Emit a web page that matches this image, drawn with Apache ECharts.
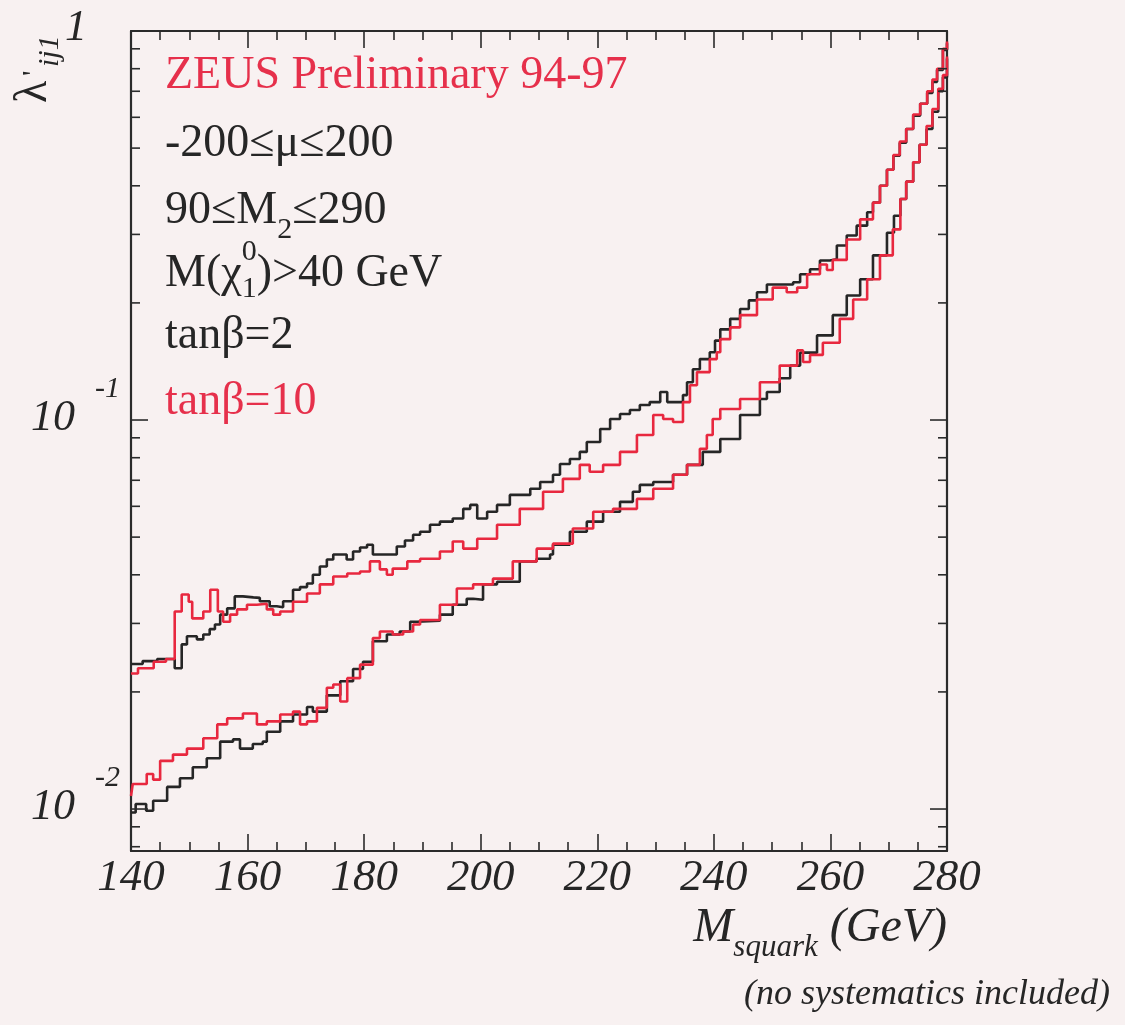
<!DOCTYPE html>
<html>
<head>
<meta charset="utf-8">
<title>ZEUS lambda' limits vs squark mass</title>
<script src="https://cdn.jsdelivr.net/npm/echarts@6/dist/echarts.min.js"></script>
<style>
  html, body { margin: 0; padding: 0; background: #f8f1f1; }
  #chart { width: 1125px; height: 1025px; }
</style>
</head>
<body>
<div id="chart"></div>
<script>
// ---- axis ranges and ticks ----
const X_MIN = 140, X_MAX = 280, X_STEP = 20;
const Y_MIN = 0.0078, Y_MAX = 1;
const yTickValues = [0.008, 0.009, 0.01, 0.02, 0.03, 0.04, 0.05, 0.06, 0.07, 0.08, 0.09,
                     0.1, 0.2, 0.3, 0.4, 0.5, 0.6, 0.7, 0.8, 0.9, 1];

// ---- tan(beta) = 2, upper boundary ----
const blackUpperMass = [140, 142, 144.5, 147.5, 148.7, 149.6, 151.3, 152.4, 153.5, 154.4,
  155.3, 156.5, 157.8, 159.2, 161, 162.1, 163.8, 165, 166.1, 167.8,
  169, 170.2, 171.2, 172.4, 173.6, 174.7, 177, 178.1, 179.3, 180.5,
  181.5, 183.9, 185.6, 187, 188.4, 189.6, 191.3, 193, 195.2, 197,
  198.2, 199.4, 201.1, 202.8, 205, 206.7, 208.5, 210.2, 212.4, 213.6,
  215.3, 217, 218.2, 220.5, 222.2, 223.9, 225.6, 227.3, 229, 230.8,
  232, 234.7, 235.4, 236.4, 237.6, 239.3, 240.2, 241.1, 242.8, 244.5,
  246, 247.4, 249.1, 253.6, 254.8, 256.5, 258.2, 259.9, 261.1, 262.8,
  264.5, 266.3, 267.3, 268.5, 269.7, 270.8, 271.9, 273, 274.2, 275.4,
  276.6, 277.5, 278.3, 279.3, 280];
const blackUpperLambda = [0.0236, 0.0240, 0.0243, 0.0230, 0.0265, 0.0278, 0.0273, 0.0281, 0.0290, 0.0298,
  0.0316, 0.0328, 0.0352, 0.0350, 0.0349, 0.0342, 0.0332, 0.0330, 0.0342, 0.0366,
  0.0372, 0.0380, 0.0400, 0.0420, 0.0438, 0.0451, 0.0438, 0.0459, 0.0470, 0.0478,
  0.0451, 0.0451, 0.0473, 0.0490, 0.0507, 0.0516, 0.0538, 0.0548, 0.0558, 0.0591,
  0.0605, 0.0558, 0.0581, 0.0605, 0.0642, 0.0642, 0.0666, 0.0693, 0.0723, 0.0771,
  0.0794, 0.0828, 0.0878, 0.0948, 0.1006, 0.1036, 0.1061, 0.1093, 0.1112, 0.1180,
  0.1112, 0.1159, 0.1251, 0.1351, 0.1434, 0.1494, 0.160, 0.171, 0.182, 0.193,
  0.203, 0.213, 0.223, 0.226, 0.237, 0.244, 0.257, 0.259, 0.281, 0.298,
  0.316, 0.342, 0.362, 0.40, 0.44, 0.478, 0.516, 0.56, 0.606, 0.65,
  0.693, 0.74, 0.794, 0.894, 0.93];

// ---- tan(beta) = 2, lower boundary ----
const blackLowerMass = [140, 140.8, 142.6, 143.8, 146.2, 148.4, 150.6, 153, 155.3, 157.5,
  158.7, 160.9, 162.6, 163.3, 165.6, 167.8, 170.2, 171.2, 173.6, 175.9,
  178.1, 179.8, 181.5, 183.9, 186.1, 187.9, 189.1, 193, 195.2, 197.6,
  198.7, 200.4, 202.8, 206.7, 209.6, 211.9, 212.4, 215.3, 218.2, 221,
  223.9, 226.1, 227.3, 229.6, 233, 235.4, 238.1, 241.1, 244.5, 247.9,
  249.1, 251.3, 253.1, 254.8, 257.7, 260.4, 262.8, 265.1, 267.3, 269.7,
  270.9, 272, 273, 274.2, 275.3, 276.5, 277.5, 278.5, 279.3, 280];
const blackLowerLambda = [0.0098, 0.0103, 0.0099, 0.0105, 0.0114, 0.0120, 0.0128, 0.0135, 0.0149, 0.0151,
  0.0143, 0.0147, 0.0149, 0.0158, 0.0168, 0.0175, 0.0183, 0.0178, 0.0196, 0.0213,
  0.0229, 0.0239, 0.0270, 0.0281, 0.0286, 0.0303, 0.0305, 0.0316, 0.0335, 0.0347,
  0.0345, 0.0378, 0.0384, 0.0433, 0.0440, 0.0451, 0.0478, 0.0516, 0.0548, 0.0581,
  0.0616, 0.0654, 0.0681, 0.0693, 0.0723, 0.0767, 0.0828, 0.0894, 0.1030, 0.1132,
  0.118, 0.128, 0.138, 0.149, 0.165, 0.186, 0.209, 0.230, 0.265, 0.303,
  0.335, 0.37, 0.41, 0.46, 0.51, 0.56, 0.62, 0.70, 0.76, 0.85];

// ---- tan(beta) = 10, upper boundary ----
const redUpperMass = [140, 141.2, 143.9, 146, 147.5, 148.7, 149.9, 150.5, 152.4, 153.6,
  154.9, 155.8, 157, 158.2, 159.9, 161.6, 163.3, 164.4, 165.6, 167.8,
  170.2, 172.4, 174.7, 177.1, 179.3, 181, 182.7, 183.9, 184.9, 187.4,
  189.6, 193, 195.2, 197, 199.4, 202.8, 206.7, 210.7, 214.1, 217,
  218.7, 221, 223.9, 226.8, 229.6, 231.3, 233, 234.7, 235.9, 237.1,
  239.3, 240.5, 241.1, 242.8, 244.5, 247.4, 250.1, 252.5, 254.3, 256,
  258.2, 259.4, 260.4, 262.8, 265.1, 267.3, 268.5, 269.7, 270.8, 271.9,
  273, 274.2, 275.4, 276.6, 277.5, 278.3, 279.3, 280];
const redUpperLambda = [0.0223, 0.0230, 0.0239, 0.0243, 0.0322, 0.0356, 0.0341, 0.0309, 0.0322, 0.0366,
  0.0322, 0.0303, 0.0316, 0.0326, 0.0335, 0.0337, 0.0326, 0.0316, 0.0322, 0.0341,
  0.0358, 0.0378, 0.0396, 0.0403, 0.0408, 0.0433, 0.0413, 0.0400, 0.0415, 0.0433,
  0.0440, 0.0459, 0.0487, 0.0467, 0.0495, 0.0538, 0.0591, 0.0654, 0.0706, 0.0767,
  0.0736, 0.0767, 0.0828, 0.0915, 0.1030, 0.1006, 0.0988, 0.1112, 0.1229, 0.1328,
  0.1434, 0.1494, 0.1614, 0.173, 0.186, 0.204, 0.219, 0.213, 0.219, 0.237,
  0.251, 0.243, 0.258, 0.291, 0.328, 0.362, 0.40, 0.44, 0.48, 0.52,
  0.56, 0.61, 0.65, 0.70, 0.75, 0.80, 0.90, 0.94];

// ---- tan(beta) = 10, lower boundary ----
const redLowerMass = [140, 140.3, 142.7, 143.8, 145, 147.2, 149.6, 152.4, 154.8, 156.5,
  159.2, 161.6, 163.3, 165.6, 167.8, 169, 170.2, 171.9, 173.6, 174.7,
  175.9, 177.1, 179.3, 181.5, 182.7, 184.9, 186.7, 188.4, 189.6, 193,
  195.9, 198.7, 202.1, 205.5, 209.6, 212.4, 215.8, 219.3, 222.7, 226.8,
  229.6, 233, 235.4, 237.6, 238.8, 239.8, 241.1, 244.5, 247.9, 251.3,
  254.3, 255.3, 256.5, 258.7, 261.6, 263.9, 266.3, 268.5, 270.7, 272,
  273, 274.2, 275.3, 276.5, 277.5, 278.5, 279.3, 280];
const redLowerLambda = [0.0108, 0.0116, 0.0123, 0.0119, 0.0133, 0.0138, 0.0143, 0.0152, 0.0165, 0.0171,
  0.0176, 0.0165, 0.0168, 0.0175, 0.0178, 0.0165, 0.0168, 0.0182, 0.0205, 0.0209,
  0.0189, 0.0217, 0.0235, 0.0275, 0.0286, 0.0281, 0.0286, 0.0298, 0.0306, 0.0335,
  0.0369, 0.0378, 0.0391, 0.0433, 0.0467, 0.0481, 0.0526, 0.0581, 0.0591, 0.0627,
  0.0666, 0.0723, 0.0767, 0.0843, 0.0915, 0.1006, 0.1067, 0.1132, 0.125, 0.138,
  0.151, 0.141, 0.147, 0.158, 0.182, 0.204, 0.230, 0.265, 0.309, 0.37,
  0.41, 0.46, 0.51, 0.57, 0.63, 0.71, 0.77, 0.86];

// ---- styling ----
const SERIF = '"Liberation Serif", "Times New Roman", Times, serif';
const INK = '#262626';
const AXIS_INK = '#2b2b2b';
const RED = '#e8283f';
const RED_TEXT = '#e6304b';
const TEXT_SIZE = 46;

const zip = (xs, ys) => xs.map((x, i) => [x, ys[i]]);
const fontOf = (size, italic) => (italic ? 'italic ' : '') + size + 'px ' + SERIF;

const measureCtx = document.createElement('canvas').getContext('2d');
function textWidth(t, font) { measureCtx.font = font; return measureCtx.measureText(t).width; }

// Lay out a run of text pieces on one baseline (with sub/superscripts).
function textRun(x0, base, parts, alignRight) {
  const widths = parts.map(p => p.stack ? 0 : textWidth(p.t, fontOf(p.size, p.italic)));
  let x = x0;
  if (alignRight) x = x0 - widths.reduce((a, b) => a + b, 0);
  const els = [];
  parts.forEach((p, i) => {
    const font = fontOf(p.size, p.italic);
    els.push({
      type: 'text', silent: true,
      x: x, y: base + (p.dy || 0) - 0.34 * p.size,
      style: { text: p.t, font: font, fill: p.fill || INK,
               textAlign: 'left', textVerticalAlign: 'middle' }
    });
    x += widths[i];
  });
  return els;
}

// Y ticks on both frame sides, plus power-of-ten labels on the left.
function renderYTicks(params, api) {
  const v = api.value(1);
  const left = api.coord([X_MIN, v]);
  const right = api.coord([X_MAX, v]);
  const e = Math.log10(v);
  const major = Math.abs(e - Math.round(e)) < 1e-9;
  const len = major ? 17 : 9;
  const lineStyle = { stroke: AXIS_INK, lineWidth: 1.6 };
  const children = [
    { type: 'line', shape: { x1: left[0], y1: left[1], x2: left[0] + len, y2: left[1] }, style: lineStyle },
    { type: 'line', shape: { x1: right[0] - len, y1: right[1], x2: right[0], y2: right[1] }, style: lineStyle }
  ];
  if (major) {
    const ex = Math.round(e);
    if (ex === 0) {
      children.push({ type: 'text', x: left[0] - 44, y: left[1] + 12 - 0.34 * 44,
        style: { text: '1', font: fontOf(44, true), fill: INK, textAlign: 'right', textVerticalAlign: 'middle' } });
    } else {
      children.push({ type: 'text', x: left[0] - 56, y: left[1] + 13 - 0.34 * 44,
        style: { text: '10', font: fontOf(44, true), fill: INK, textAlign: 'right', textVerticalAlign: 'middle' } });
      children.push({ type: 'text', x: left[0] - 11, y: left[1] - 21 - 0.34 * 30,
        style: { text: String(ex), font: fontOf(30, true), fill: INK, textAlign: 'right', textVerticalAlign: 'middle' } });
    }
  }
  return { type: 'group', children: children };
}

// ---- annotation text ----
const TX = 165;
const S = TEXT_SIZE, SS = 30;
const annotations = [].concat(
  textRun(TX, 92, [{ t: 'ZEUS Preliminary 94-97', size: S, fill: RED_TEXT }]),
  textRun(TX, 160, [{ t: '-200≤μ≤200', size: S }]),
  textRun(TX, 227, [{ t: '90≤M', size: S }, { t: '2', size: SS, dy: 13 }, { t: '≤290', size: S }]),
  textRun(TX, 290, [{ t: 'M(χ', size: S }, { t: '0', size: SS, dy: -28, stack: true },
                    { t: '1', size: SS, dy: 9 }, { t: ')>40 GeV', size: S }]),
  textRun(TX, 352, [{ t: 'tanβ=2', size: S }]),
  textRun(TX, 418, [{ t: 'tanβ=10', size: S, fill: RED_TEXT }]),
  // x axis title
  textRun(947, 945, [{ t: 'M', size: 48, italic: true }, { t: 'squark', size: 31, italic: true, dy: 13 },
                     { t: ' (GeV)', size: 48, italic: true }], true),
  textRun(1110, 1007, [{ t: '(no systematics included)', size: 36, italic: true }], true)
);

// y axis title, rotated to read upwards
const yTitle = {
  type: 'group', x: 50, y: 103, rotation: Math.PI / 2, silent: true,
  children: [
    { type: 'text', x: 0, y: -0.34 * 46, style: { text: 'λ', font: fontOf(46, false), fill: INK, textAlign: 'left', textVerticalAlign: 'middle' } },
    { type: 'text', x: 27, y: -6 - 0.34 * 30, style: { text: '\'', font: fontOf(30, false), fill: INK, textAlign: 'left', textVerticalAlign: 'middle' } },
    { type: 'text', x: 36, y: 10 - 0.34 * 30, style: { text: 'ij1', font: fontOf(30, true), fill: INK, textAlign: 'left', textVerticalAlign: 'middle' } }
  ]
};

function boundary(name, mass, lambda, color, z) {
  return {
    name: name, type: 'line', step: 'end', symbol: 'none', z: z,
    data: zip(mass, lambda),
    lineStyle: { color: color, width: 2.6 },
    silent: true, animation: false
  };
}

const xAxisCommon = {
  type: 'value', min: X_MIN, max: X_MAX, interval: X_STEP,
  axisLine: { show: true, lineStyle: { color: AXIS_INK, width: 2.2 } },
  axisTick: { show: true, inside: true, length: 17, lineStyle: { color: AXIS_INK, width: 1.6 } },
  minorTick: { show: true, splitNumber: 4, length: 9, lineStyle: { color: AXIS_INK, width: 1.6 } },
  splitLine: { show: false }, minorSplitLine: { show: false }
};
const yAxisCommon = {
  type: 'log', logBase: 10, min: Y_MIN, max: Y_MAX,
  axisLine: { show: true, lineStyle: { color: AXIS_INK, width: 2.2 } },
  axisTick: { show: false }, axisLabel: { show: false },
  splitLine: { show: false }, minorTick: { show: false }, minorSplitLine: { show: false }
};

const chart = echarts.init(document.getElementById('chart'), null, { renderer: 'canvas' });
chart.setOption({
  backgroundColor: '#f8f1f1',
  animation: false,
  grid: { left: 131, right: 178, top: 31, bottom: 174, containLabel: false },
  xAxis: [
    Object.assign({}, xAxisCommon, {
      position: 'bottom',
      axisLabel: { show: true, margin: 5, color: INK, fontFamily: SERIF, fontStyle: 'italic', fontSize: 45 }
    }),
    Object.assign({}, xAxisCommon, { position: 'top', axisLabel: { show: false } })
  ],
  yAxis: [
    Object.assign({}, yAxisCommon, { position: 'left' }),
    Object.assign({}, yAxisCommon, { position: 'right' })
  ],
  series: [
    boundary('tanβ=2 upper', blackUpperMass, blackUpperLambda, INK, 2),
    boundary('tanβ=2 lower', blackLowerMass, blackLowerLambda, INK, 2),
    boundary('tanβ=10 upper', redUpperMass, redUpperLambda, RED, 3),
    boundary('tanβ=10 lower', redLowerMass, redLowerLambda, RED, 3),
    {
      type: 'custom', name: 'y ticks', silent: true, clip: false, z: 4,
      data: yTickValues.map(v => [X_MIN, v]),
      encode: { x: 0, y: 1 },
      renderItem: renderYTicks
    }
  ],
  graphic: { elements: annotations.concat([yTitle]) }
});
</script>
</body>
</html>
